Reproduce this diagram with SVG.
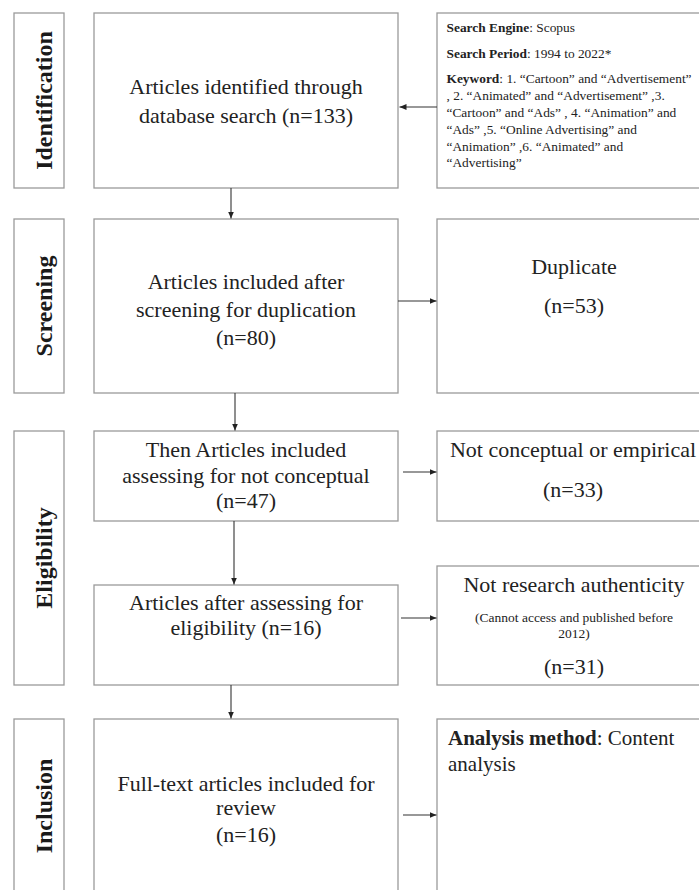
<svg xmlns="http://www.w3.org/2000/svg" width="699" height="890" viewBox="0 0 699 890">
<style>
.box{fill:#fff;stroke:#9a9a9a;stroke-width:1.3}
.side{font-family:"Liberation Serif","Times New Roman",serif;font-weight:bold;font-size:24px;fill:#1a1a1a;text-anchor:middle}
.main{font-family:"Liberation Serif","Times New Roman",serif;font-size:22px;fill:#222;text-anchor:middle}
.small{font-family:"Liberation Serif","Times New Roman",serif;font-size:13.4px;fill:#222}
.note{font-family:"Liberation Serif","Times New Roman",serif;font-size:13.5px;fill:#222;text-anchor:middle}
.an{font-family:"Liberation Serif","Times New Roman",serif;font-size:21px;fill:#222}
.conn{stroke:#333;stroke-width:1.1;fill:none;marker-end:url(#ah)}
</style>
<defs>
<marker id="ah" markerUnits="userSpaceOnUse" markerWidth="8" markerHeight="8" refX="7" refY="4" orient="auto">
<path d="M0,1 L7,4 L0,7 Z" fill="#222"/>
</marker>
</defs>
<rect width="699" height="890" fill="#fff"/>

<g id="label-identification">
<rect class="box" x="14" y="13" width="50" height="175"/>
<text class="side" transform="translate(51.5,100.5) rotate(-90)">Identification</text>
</g>
<g id="label-screening">
<rect class="box" x="14" y="219" width="50" height="174"/>
<text class="side" transform="translate(51.5,306) rotate(-90)">Screening</text>
</g>
<g id="label-eligibility">
<rect class="box" x="14" y="431" width="50" height="254"/>
<text class="side" transform="translate(51.5,558) rotate(-90)">Eligibility</text>
</g>
<g id="label-inclusion">
<rect class="box" x="14" y="719" width="50" height="176"/>
<text class="side" transform="translate(51.5,806) rotate(-90)">Inclusion</text>
</g>

<g id="identified">
<rect class="box" x="94" y="13" width="304" height="175"/>
<text class="main" x="246" y="94">Articles identified through</text>
<text class="main" x="246" y="122.5">database search (n=133)</text>
</g>
<g id="search-info">
<rect class="box" x="437" y="13" width="280" height="175"/>
<text class="small" x="446.5" y="31.5"><tspan font-weight="bold">Search Engine</tspan>: Scopus</text>
<text class="small" x="446.5" y="58"><tspan font-weight="bold">Search Period</tspan>: 1994 to 2022*</text>
<text class="small" x="446.5" y="83"><tspan font-weight="bold">Keyword</tspan>: 1. “Cartoon” and “Advertisement”</text>
<text class="small" x="446.5" y="100">, 2. “Animated” and “Advertisement” ,3.</text>
<text class="small" x="446.5" y="117">“Cartoon” and “Ads” , 4. “Animation” and</text>
<text class="small" x="446.5" y="134">“Ads” ,5. “Online Advertising” and</text>
<text class="small" x="446.5" y="150.5">“Animation” ,6. “Animated” and</text>
<text class="small" x="446.5" y="167">“Advertising”</text>
</g>

<g id="screened">
<rect class="box" x="94" y="219" width="304" height="174"/>
<text class="main" x="246" y="289">Articles included after</text>
<text class="main" x="246" y="317">screening for duplication</text>
<text class="main" x="246" y="345">(n=80)</text>
</g>
<g id="duplicate">
<rect class="box" x="437" y="219" width="280" height="174"/>
<text class="main" x="574" y="274">Duplicate</text>
<text class="main" x="574" y="313">(n=53)</text>
</g>

<g id="conceptual">
<rect class="box" x="94" y="431" width="304" height="90"/>
<text class="main" x="246" y="457">Then Articles included</text>
<text class="main" x="246" y="483">assessing for not conceptual</text>
<text class="main" x="246" y="508">(n=47)</text>
</g>
<g id="not-conceptual">
<rect class="box" x="437" y="431" width="280" height="90"/>
<text class="main" x="573" y="457">Not conceptual or empirical</text>
<text class="main" x="573" y="497">(n=33)</text>
</g>

<g id="eligible">
<rect class="box" x="94" y="585" width="304" height="100"/>
<text class="main" x="246" y="610">Articles after assessing for</text>
<text class="main" x="246" y="635">eligibility (n=16)</text>
</g>
<g id="not-authentic">
<rect class="box" x="437" y="566" width="280" height="119"/>
<text class="main" x="574" y="592">Not research authenticity</text>
<text class="note" x="574" y="622">(Cannot access and published before</text>
<text class="note" x="574" y="638">2012)</text>
<text class="main" x="574" y="674">(n=31)</text>
</g>

<g id="included">
<rect class="box" x="94" y="719" width="304" height="180"/>
<text class="main" x="246" y="791">Full-text articles included for</text>
<text class="main" x="246" y="815">review</text>
<text class="main" x="246" y="842">(n=16)</text>
</g>
<g id="analysis">
<rect class="box" x="437" y="719" width="280" height="180"/>
<text class="an" x="448" y="745"><tspan font-weight="bold">Analysis method</tspan>: Content</text>
<text class="an" x="448" y="771">analysis</text>
</g>

<g id="connectors">
<line class="conn" x1="231" y1="188" x2="231" y2="218.5"/>
<line class="conn" x1="437" y1="107" x2="399.5" y2="107"/>
<line class="conn" x1="398" y1="301" x2="436.5" y2="301"/>
<line class="conn" x1="235" y1="393" x2="235" y2="430.5"/>
<line class="conn" x1="403" y1="472" x2="436.5" y2="472"/>
<line class="conn" x1="234" y1="521" x2="234" y2="584.5"/>
<line class="conn" x1="401" y1="618" x2="436.5" y2="618"/>
<line class="conn" x1="231" y1="685" x2="231" y2="718.5"/>
<line class="conn" x1="403" y1="815" x2="436.5" y2="815"/>
</g>
</svg>
